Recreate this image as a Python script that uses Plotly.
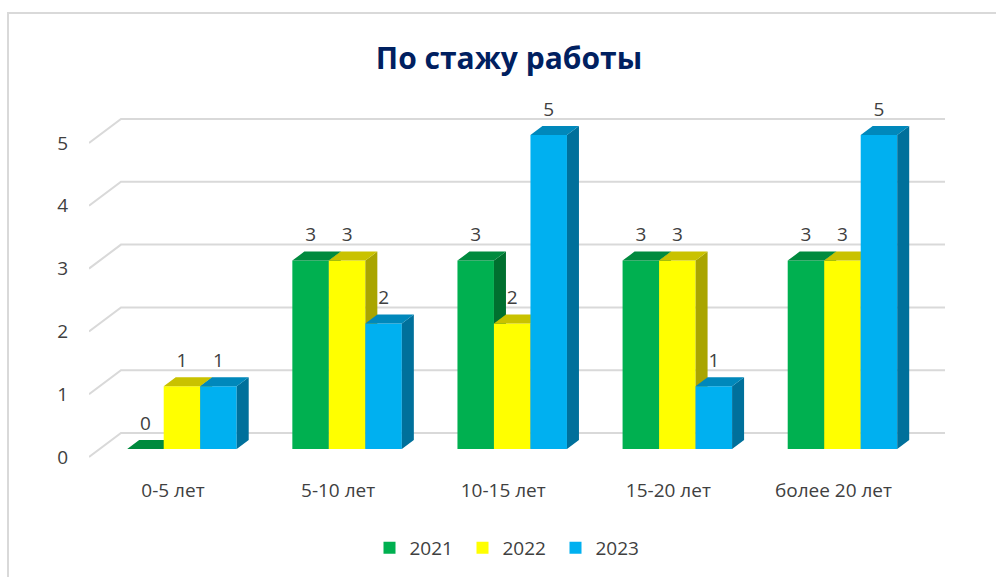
import plotly.graph_objects as go

# ---- data ----
categories = ["0-5 лет", "5-10 лет", "10-15 лет", "15-20 лет", "более 20 лет"]
series_names = ["2021", "2022", "2023"]
values_2021 = [0, 3, 3, 3, 3]
values_2022 = [1, 3, 2, 3, 3]
values_2023 = [1, 2, 5, 1, 5]
y_ticks = [0, 1, 2, 3, 4, 5]
title_text = "По стажу работы"

# ---- styles ----
front_colors = ["#00B050", "#FFFF00", "#00B0F0"]
top_colors = ["#008A3E", "#C9C200", "#0088BB"]
side_colors = ["#00702F", "#A9A500", "#00709B"]
FONT = "Open Sans"
TXT = "#404040"
GRID = "#D9D9D9"
FS = 19

W, H = 996, 577
ML, MR, MT, MB = 89, 51, 88, 117
PW, PH = W - ML - MR, H - MT - MB
XR = [-0.563, 4.621]
px_x = PW / (XR[1] - XR[0])      # pixels per x unit
ZERO_PX, UNIT_PX = 449, 62.8      # pixel row of value 0, pixels per unit
YR = [(ZERO_PX - (MT + PH)) / UNIT_PX, (ZERO_PX - MT) / UNIT_PX]
px_y = UNIT_PX

def dxu(p):
    return p / px_x

def dyu(p):
    return p / px_y

bar_w = dxu(36.5)
depth_dx, depth_dy = dxu(12), dyu(9)

fig = go.Figure()

# gridlines (back wall + left floor diagonal)
gx, gy = [], []
for v in y_ticks:
    gx += [XR[0], XR[0] + dxu(32), XR[1], None]
    gy += [v - dyu(8), v + dyu(16), v + dyu(16), None]
fig.add_trace(go.Scatter(x=gx, y=gy, mode="lines", line=dict(color=GRID, width=2),
                         hoverinfo="skip", showlegend=False, zorder=0, cliponaxis=False))

all_vals = [values_2021, values_2022, values_2023]
idx = list(range(len(categories)))
z = 1
for j, (name, vals) in enumerate(zip(series_names, all_vals)):
    centers = [i + (j - 1) * bar_w for i in idx]
    fig.add_trace(go.Bar(x=centers, y=vals, name=name, width=bar_w,
                         marker=dict(color=front_colors[j], line=dict(width=0)),
                         zorder=z))
    z += 1
    sx, sy, tx, ty = [], [], [], []
    for c, v in zip(centers, vals):
        xl, xr = c - bar_w / 2, c + bar_w / 2
        sx += [xr, xr, xr + depth_dx, xr + depth_dx, xr, None]
        sy += [0, v, v + depth_dy, depth_dy, 0, None]
        tx += [xl, xr, xr + depth_dx, xl + depth_dx, xl, None]
        ty += [v, v, v + depth_dy, v + depth_dy, v, None]
    fig.add_trace(go.Scatter(x=sx, y=sy, mode="lines", fill="toself", fillcolor=side_colors[j],
                             line=dict(width=0, color=side_colors[j]), hoverinfo="skip",
                             showlegend=False, zorder=z))
    fig.add_trace(go.Scatter(x=tx, y=ty, mode="lines", fill="toself", fillcolor=top_colors[j],
                             line=dict(width=0, color=top_colors[j]), hoverinfo="skip",
                             showlegend=False, zorder=z))
    z += 1

# data labels
for j, vals in enumerate(all_vals):
    centers = [i + (j - 1) * bar_w for i in idx]
    fig.add_trace(go.Scatter(x=centers, y=[v + dyu(24) for v in vals], mode="text",
                             text=[str(v) for v in vals], textposition="middle center",
                             textfont=dict(family=FONT, size=FS, color=TXT),
                             hoverinfo="skip", showlegend=False, cliponaxis=False, zorder=20))

fig.update_layout(
    width=W, height=H,
    margin=dict(l=ML, r=MR, t=MT, b=MB),
    paper_bgcolor="white", plot_bgcolor="rgba(0,0,0,0)",
    barmode="overlay",
    font=dict(family=FONT, size=FS, color=TXT),
    title=dict(text=f"<b>{title_text}</b>", x=509 / W, xref="container", xanchor="center",
               y=1 - 58 / H, yref="container", yanchor="middle",
               font=dict(family=FONT, size=30, color="#002060")),
    xaxis=dict(range=XR, tickvals=idx, ticktext=categories, showgrid=False, zeroline=False,
               showline=False, ticks="", ticklabelshift=-9,
               ticklabelstandoff=17 + (MT + PH - 460),
               tickfont=dict(family=FONT, size=FS, color=TXT), fixedrange=True),
    yaxis=dict(range=YR, tickvals=y_ticks, showgrid=False, zeroline=False, showline=False,
               ticks="", ticklabelshift=8, ticklabelstandoff=20,
               tickfont=dict(family=FONT, size=FS, color=TXT), fixedrange=True),
    legend=dict(orientation="h", x=(509 - ML) / PW, xanchor="center",
                y=1 - 548 / H, yref="container", yanchor="middle", entrywidth=48,
                font=dict(family=FONT, size=FS, color=TXT), itemclick=False),
    showlegend=True,
    shapes=[dict(type="rect", xref="paper", yref="paper",
                 x0=(8 - ML) / PW, x1=(W + 10 - ML) / PW,
                 y0=(MT + PH - (H + 10)) / PH, y1=(MT + PH - 13) / PH,
                 line=dict(color=GRID, width=2), fillcolor="rgba(0,0,0,0)", layer="below")],
)

fig.write_html("out.html", config={"displayModeBar": False},
               post_script="document.body.style.margin='0px';")
